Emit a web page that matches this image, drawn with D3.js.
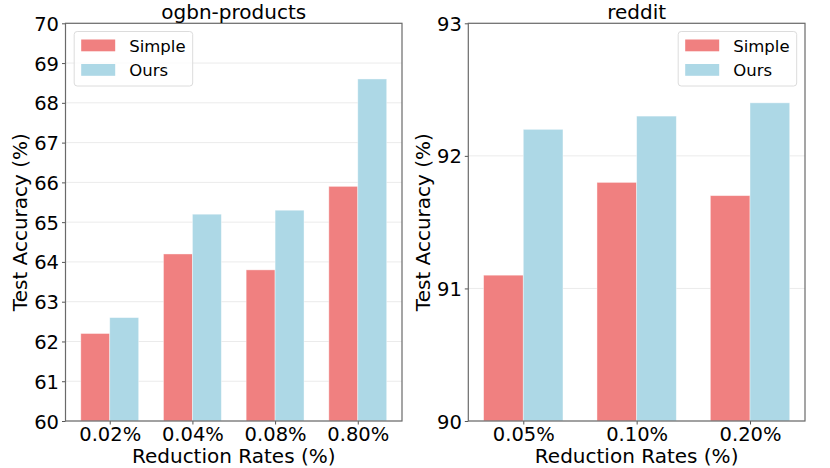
<!DOCTYPE html>
<html>
<head>
    <meta charset="utf-8">
    <title>Simple vs Ours</title>
    <script src="https://cdn.jsdelivr.net/npm/d3@7"></script>
    <style>
    body { margin: 0; background: #fff; }
    text { font-family: "DejaVu Sans", sans-serif; fill: #000; }
    .grid line { stroke: #ebebeb; stroke-width: 1px; }
    .axis path { display: none; }
    .axis line { stroke: #555; }
    .frame { fill: none; stroke: #6a6a6a; stroke-width: 1.2px; }
    </style>
</head>
<body>
<script>

// data
var seriesNames = ['Simple', 'Ours'];
var seriesColors = ['#f08080', '#add8e6'];

var productsRates = ['0.02%', '0.04%', '0.08%', '0.80%'];
var productsSimple = [62.2, 64.2, 63.8, 65.9];
var productsOurs = [62.6, 65.2, 65.3, 68.6];
var productsTicks = [60, 61, 62, 63, 64, 65, 66, 67, 68, 69, 70];

var redditRates = ['0.05%', '0.10%', '0.20%'];
var redditSimple = [91.1, 91.8, 91.7];
var redditOurs = [92.2, 92.3, 92.4];
var redditTicks = [90, 91, 92, 93];

var width = 830, height = 468;
var barW = 0.35;

var svg = d3.select('body').append('svg')
    .attr('width', width)
    .attr('height', height);

function drawPanel(cfg) {
    var n = cfg.rates.length;
    var span = (n - 1) + 2 * barW;
    var pad = span * 0.05;

    var x = d3.scaleLinear()
        .domain([-barW - pad, n - 1 + barW + pad])
        .range([cfg.left, cfg.right]);
    var y = d3.scaleLinear()
        .domain([cfg.ticks[0], cfg.ticks[cfg.ticks.length - 1]])
        .range([cfg.bottom, cfg.top]);

    var g = svg.append('g');

    // grid behind bars
    g.append('g').attr('class', 'grid')
        .selectAll('line')
        .data(cfg.ticks)
        .enter().append('line')
        .attr('x1', cfg.left).attr('x2', cfg.right)
        .attr('y1', function(d) { return y(d); })
        .attr('y2', function(d) { return y(d); });

    var series = [cfg.simple, cfg.ours];
    series.forEach(function(vals, s) {
        g.append('g').selectAll('rect')
            .data(vals)
            .enter().append('rect')
            .attr('x', function(d, i) { return x(i + (s === 0 ? -barW : 0)); })
            .attr('width', x(barW) - x(0))
            .attr('y', function(d) { return y(d); })
            .attr('height', function(d) { return y(cfg.ticks[0]) - y(d); })
            .attr('fill', seriesColors[s])
            .attr('stroke', '#fff')
            .attr('stroke-opacity', 0.5)
            .attr('stroke-width', 0.8);
    });

    // axes
    var yAxis = d3.axisLeft(y)
        .tickValues(cfg.ticks)
        .tickFormat(d3.format('d'))
        .tickSize(3.5).tickPadding(3);
    var ya = g.append('g').attr('class', 'axis')
        .attr('transform', 'translate(' + cfg.left + ',0)')
        .call(yAxis);
    ya.selectAll('text').style('font-size', '19.5px').attr('dy', '0.36em');

    var xAxis = d3.axisBottom(x)
        .tickValues(d3.range(n))
        .tickFormat(function(i) { return cfg.rates[i]; })
        .tickSize(3.5).tickPadding(3);
    var xa = g.append('g').attr('class', 'axis')
        .attr('transform', 'translate(0,' + cfg.bottom + ')')
        .call(xAxis);
    xa.selectAll('text').style('font-size', '19.5px').attr('dy', null).attr('y', 20);

    g.append('rect').attr('class', 'frame')
        .attr('x', cfg.left).attr('y', cfg.top)
        .attr('width', cfg.right - cfg.left)
        .attr('height', cfg.bottom - cfg.top);

    var cx = (cfg.left + cfg.right) / 2;
    g.append('text')
        .attr('x', cx).attr('y', 19)
        .attr('text-anchor', 'middle')
        .style('font-size', '20px')
        .text(cfg.title);

    g.append('text')
        .attr('x', cx).attr('y', 463)
        .attr('text-anchor', 'middle')
        .style('font-size', '20px')
        .text('Reduction Rates (%)');

    g.append('text')
        .attr('transform', 'translate(' + (cfg.left - 38.5) + ',' + ((cfg.top + cfg.bottom) / 2) + ') rotate(-90)')
        .attr('text-anchor', 'middle')
        .style('font-size', '20px')
        .text('Test Accuracy (%)');

    // legend
    var lw = 118.5, lh = 54.5;
    var lx = cfg.legendRight ? cfg.right - 8.3 - lw : cfg.left + 8.7;
    var ly = cfg.top + 8.2;
    var leg = g.append('g').attr('transform', 'translate(' + lx + ',' + ly + ')');
    leg.append('rect')
        .attr('width', lw).attr('height', lh)
        .attr('rx', 3)
        .attr('fill', '#fff').attr('fill-opacity', 0.8)
        .attr('stroke', '#dcdcdc').attr('stroke-width', 1);
    seriesNames.forEach(function(name, s) {
        leg.append('rect')
            .attr('x', 7).attr('y', 8 + s * 24.5)
            .attr('width', 34).attr('height', 11.8)
            .attr('fill', seriesColors[s]);
        leg.append('text')
            .attr('x', 55).attr('y', 20 + s * 24.5)
            .style('font-size', '16.5px')
            .text(name);
    });
}

drawPanel({
    title: 'ogbn-products',
    rates: productsRates, simple: productsSimple, ours: productsOurs,
    ticks: productsTicks,
    left: 65.5, right: 402, top: 23.3, bottom: 421,
    legendRight: false
});

drawPanel({
    title: 'reddit',
    rates: redditRates, simple: redditSimple, ours: redditOurs,
    ticks: redditTicks,
    left: 468.3, right: 805, top: 23.3, bottom: 421,
    legendRight: true
});

</script>
</body>
</html>
